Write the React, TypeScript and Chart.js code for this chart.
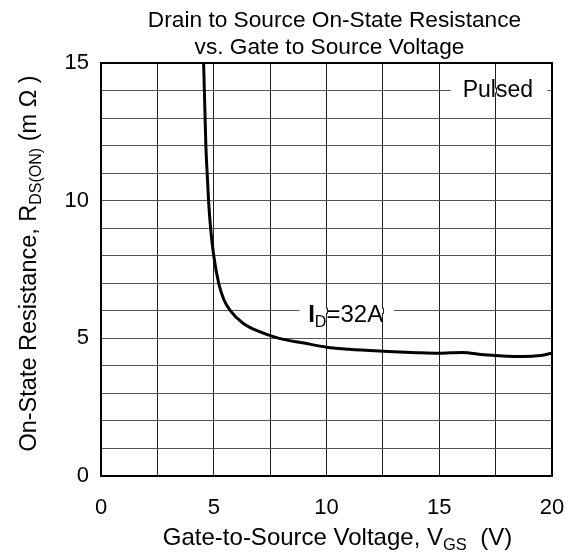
import React, { useEffect, useRef } from 'react';
import { Chart, registerables } from 'chart.js';

Chart.register(...registerables);

const FONT = '"Liberation Sans", Arial, sans-serif';

const TITLE_LINES = ['Drain to Source On-State Resistance', 'vs. Gate to Source Voltage'];
const X_TITLE = [{ t: 'Gate-to-Source Voltage, V' }, { t: 'GS', sub: true }, { t: '  (V)' }];
const Y_TITLE = [{ t: 'On-State Resistance, R' }, { t: 'DS(ON)', sub: true }, { t: ' (m Ω )' }];

// Gate-to-source voltage (V)
const VGS = [4.55, 4.6, 4.65, 4.72, 4.77, 4.86, 5.0, 5.22, 5.45, 5.74, 6.3, 7.0, 7.9, 9.0, 10.0, 11.0, 12.5, 14.0, 15.0, 16.0, 17.0, 18.0, 18.7, 19.5, 20.0];
// On-state resistance (mOhm), ID = 32A
const RDS = [15.0, 13.5, 12.0, 10.8, 10.0, 9.0, 8.0, 7.0, 6.4, 6.0, 5.55, 5.25, 5.0, 4.83, 4.68, 4.6, 4.53, 4.48, 4.46, 4.49, 4.4, 4.35, 4.34, 4.38, 4.46];

const X_LABEL_VALUES = [0, 5, 10, 15, 20];
const Y_LABEL_VALUES = [0, 5, 10, 15];

const PULSED_TEXT = 'Pulsed';
const ID_TEXT = [{ t: 'I', bold: true }, { t: 'D', sub: true }, { t: '=32A' }];

type Part = { t: string; sub?: boolean; bold?: boolean };

function fontFor(p: Part, size: number, subSize: number) {
  return `${p.bold ? 'bold ' : ''}${p.sub ? subSize : size}px ${FONT}`;
}

function drawRich(ctx: CanvasRenderingContext2D, parts: Part[], x: number, y: number, size: number, subSize: number) {
  const widths = parts.map((p) => {
    ctx.font = fontFor(p, size, subSize);
    return ctx.measureText(p.t).width;
  });
  const total = widths.reduce((a, b) => a + b, 0);
  let cx = x - total / 2;
  ctx.textAlign = 'left';
  ctx.textBaseline = 'alphabetic';
  parts.forEach((p, i) => {
    ctx.font = fontFor(p, size, subSize);
    ctx.fillText(p.t, cx, p.sub ? y + size * 0.2 : y);
    cx += widths[i];
  });
}

const GRID_X = '#222';
const GRID_Y = '#555';

const overlay = {
  id: 'overlay',
  afterDraw(chart: any) {
    const { ctx, chartArea: a, scales } = chart;
    const xs = scales.x;
    const ys = scales.y;
    ctx.save();

    const mask = (yv: number, x1: number, x2: number) => {
      const py = ys.getPixelForValue(yv);
      const px1 = xs.getPixelForValue(x1);
      const px2 = xs.getPixelForValue(x2);
      ctx.fillStyle = '#fff';
      ctx.fillRect(px1, py - 2, px2 - px1, 4);
      ctx.strokeStyle = GRID_X;
      ctx.lineWidth = 1;
      for (let v = 0; v <= 20; v += 2.5) {
        const vx = xs.getPixelForValue(v);
        if (vx > px1 && vx < px2) {
          ctx.beginPath();
          ctx.moveTo(Math.round(vx) + 0.5, py - 3);
          ctx.lineTo(Math.round(vx) + 0.5, py + 3);
          ctx.stroke();
        }
      }
    };

    // Pulsed annotation
    mask(14, 15.5, 19.8);
    ctx.fillStyle = '#000';
    ctx.font = `23px ${FONT}`;
    ctx.textAlign = 'center';
    ctx.textBaseline = 'alphabetic';
    ctx.fillText(PULSED_TEXT, xs.getPixelForValue(17.6), ys.getPixelForValue(14) + 6);

    // ID annotation
    mask(6, 8.8, 13.0);
    ctx.fillStyle = '#000';
    drawRich(ctx, ID_TEXT, xs.getPixelForValue(10.85), ys.getPixelForValue(6) + 11, 24, 16);

    // frame
    ctx.strokeStyle = '#000';
    ctx.lineWidth = 2;
    ctx.strokeRect(a.left, a.top, a.right - a.left, a.bottom - a.top);

    // title
    ctx.fillStyle = '#000';
    ctx.font = `22.7px ${FONT}`;
    ctx.textAlign = 'center';
    ctx.textBaseline = 'alphabetic';
    const cx = (a.left + a.right) / 2;
    ctx.fillText(TITLE_LINES[0], cx + 8, 27);
    ctx.fillText(TITLE_LINES[1], cx + 3, 54);

    // x title
    drawRich(ctx, X_TITLE, cx + 11, 545, 24, 16.5);

    // y title
    ctx.save();
    ctx.translate(36, (a.top + a.bottom) / 2 - 6);
    ctx.rotate(-Math.PI / 2);
    drawRich(ctx, Y_TITLE, 0, 0, 23.5, 16);
    ctx.restore();

    ctx.restore();
  },
};

export default function App() {
  const ref = useRef<HTMLCanvasElement>(null);
  useEffect(() => {
    if (!ref.current) return;
    const chart = new Chart(ref.current, {
      type: 'line',
      data: {
        datasets: [
          {
            data: VGS.map((v, i) => ({ x: v, y: RDS[i] })),
            borderColor: '#000',
            borderWidth: 3,
            pointRadius: 0,
            cubicInterpolationMode: 'monotone',
            fill: false,
          },
        ],
      },
      options: {
        animation: false,
        responsive: false,
        maintainAspectRatio: false,
        layout: { padding: { left: 0, right: 24, top: 63, bottom: 0 } },
        plugins: { legend: { display: false }, title: { display: false }, tooltip: { enabled: false } },
        scales: {
          x: {
            type: 'linear',
            min: 0,
            max: 20,
            afterFit: (s: any) => {
              s.height = 81;
              s.paddingLeft = 0;
              s.paddingRight = 0;
            },
            ticks: {
              stepSize: 2.5,
              padding: 19,
              color: '#000',
              font: { family: FONT, size: 22 },
              callback: (v: any) => (X_LABEL_VALUES.includes(Number(v)) ? String(v) : ''),
              maxRotation: 0,
              autoSkip: false,
            },
            grid: { color: GRID_X, lineWidth: 1, drawTicks: false },
            border: { color: '#000', width: 2 },
          },
          y: {
            type: 'linear',
            min: 0,
            max: 15,
            afterFit: (s: any) => {
              s.width = 101;
              s.paddingTop = 0;
              s.paddingBottom = 0;
            },
            ticks: {
              stepSize: 1,
              padding: 12,
              color: '#000',
              font: { family: FONT, size: 22 },
              callback: (v: any) => (Y_LABEL_VALUES.includes(Number(v)) ? String(v) : ''),
              autoSkip: false,
            },
            grid: { color: GRID_Y, lineWidth: 1, drawTicks: false },
            border: { color: '#000', width: 2 },
          },
        },
      },
      plugins: [overlay],
    } as any);
    return () => chart.destroy();
  }, []);
  return (
    <div style={{ position: 'fixed', left: 0, top: 0, width: 576, height: 557, background: '#fff' }}>
      <canvas ref={ref} width={576} height={557} style={{ display: 'block', width: 576, height: 557 }} />
    </div>
  );
}
